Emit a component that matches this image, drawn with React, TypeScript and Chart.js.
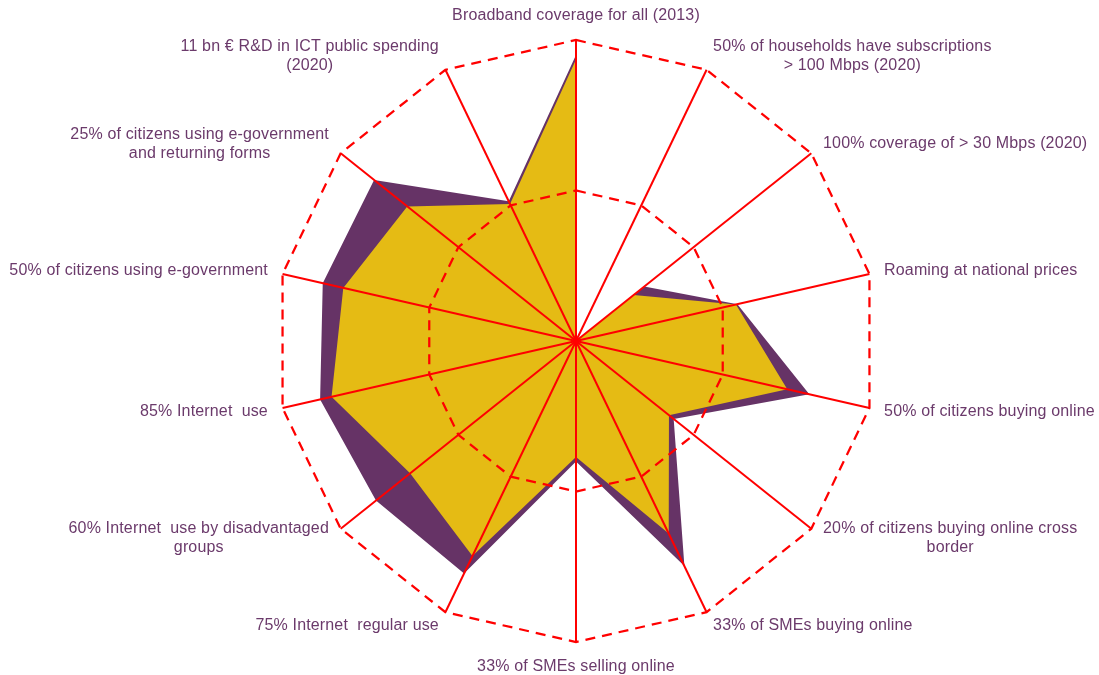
import React, { useEffect, useRef } from 'react';
import { Chart, registerables } from 'chart.js';

Chart.register(...registerables);

const categories: (string | string[])[] = [
  'Broadband coverage for all (2013)',
  ['50% of households have subscriptions', '> 100 Mbps (2020)'],
  '100% coverage of > 30 Mbps (2020)',
  'Roaming at national prices',
  '50% of citizens buying online',
  ['20% of citizens buying online cross', 'border'],
  '33% of SMEs buying online',
  '33% of SMEs selling online',
  '75% Internet  regular use',
  ['60% Internet  use by disadvantaged', 'groups'],
  '85% Internet  use',
  '50% of citizens using e-government',
  ['25% of citizens using e-government', 'and returning forms'],
  ['11 bn € R&D in ICT public spending', '(2020)'],
];

const previousValues = [0.935, 0, 0.245, 0.545, 0.72, 0.395, 0.71, 0.385, 0.793, 0.705, 0.833, 0.793, 0.717, 0.505];
const currentValues = [0.95, 0, 0.29, 0.55, 0.795, 0.415, 0.83, 0.4, 0.857, 0.85, 0.872, 0.863, 0.858, 0.515];

const scaleMin = 0;
const scaleMax = 1;
const scaleStep = 0.5;

const YELLOW = '#E5BB14';
const PURPLE = '#663366';
const RED = '#FF0000';
const LABEL_COLOR = '#6B3A6B';
const LABEL_FONT = '16px "Liberation Sans", Arial, sans-serif';
const LINE_HEIGHT = 19;
const LABEL_GAP = 15;

const pointLabelPlugin = {
  id: 'excelPointLabels',
  afterDraw(chart: any) {
    const scale = chart.scales.r;
    const ctx = chart.ctx as CanvasRenderingContext2D;
    ctx.save();
    ctx.font = LABEL_FONT;
    (ctx as any).letterSpacing = '0.15px';
    ctx.fillStyle = LABEL_COLOR;
    ctx.textBaseline = 'middle';
    ctx.textAlign = 'center';
    const labels = chart.data.labels as (string | string[])[];
    labels.forEach((lab, i) => {
      const lines = Array.isArray(lab) ? lab : [lab];
      const theta = scale.getIndexAngle(i);
      const s = Math.sin(theta);
      const c = Math.cos(theta);
      const p = scale.getPointPosition(i, scale.drawingArea + LABEL_GAP);
      const w = Math.max(...lines.map((l) => ctx.measureText(l).width));
      const h = lines.length * LINE_HEIGHT;
      let cx: number;
      let cy: number;
      if (Math.abs(s) < 0.01) {
        cx = p.x;
        cy = p.y - (c * h) / 2;
      } else {
        cx = s > 0 ? p.x + w / 2 : p.x - w / 2;
        cy = p.y;
      }
      lines.forEach((line, k) => {
        ctx.fillText(line, cx, cy - h / 2 + LINE_HEIGHT * (k + 0.5));
      });
    });
    ctx.restore();
  },
};

export default function App() {
  const canvasRef = useRef<HTMLCanvasElement | null>(null);

  useEffect(() => {
    if (!canvasRef.current) return;
    const chart = new Chart(canvasRef.current, {
      type: 'radar',
      data: {
        labels: categories,
        datasets: [
          {
            label: 'Previous',
            data: previousValues,
            backgroundColor: YELLOW,
            borderColor: YELLOW,
            borderWidth: 0,
            fill: true,
            pointRadius: 0,
          },
          {
            label: 'Current',
            data: currentValues,
            backgroundColor: PURPLE,
            borderColor: PURPLE,
            borderWidth: 0,
            fill: true,
            pointRadius: 0,
          },
        ],
      },
      options: {
        responsive: false,
        animation: false,
        layout: { padding: { left: 275, right: 222, top: 40, bottom: 33 } },
        plugins: {
          legend: { display: false },
          tooltip: { enabled: false },
        },
        elements: {
          point: { radius: 0, hoverRadius: 0 },
          line: { tension: 0 },
        },
        scales: {
          r: {
            min: scaleMin,
            max: scaleMax,
            beginAtZero: true,
            ticks: { display: false, stepSize: scaleStep },
            grid: { color: RED, lineWidth: 2.25, z: 1, circular: false },
            border: { dash: [10, 7] },
            angleLines: { color: RED, lineWidth: 2 },
            pointLabels: { display: false },
          },
        },
      } as any,
      plugins: [pointLabelPlugin],
    });
    return () => chart.destroy();
  }, []);

  return (
    <div style={{ position: 'fixed', left: 0, top: 0, width: 1099, height: 675, background: '#fff' }}>
      <canvas ref={canvasRef} width={1099} height={675} style={{ display: 'block' }} />
    </div>
  );
}
